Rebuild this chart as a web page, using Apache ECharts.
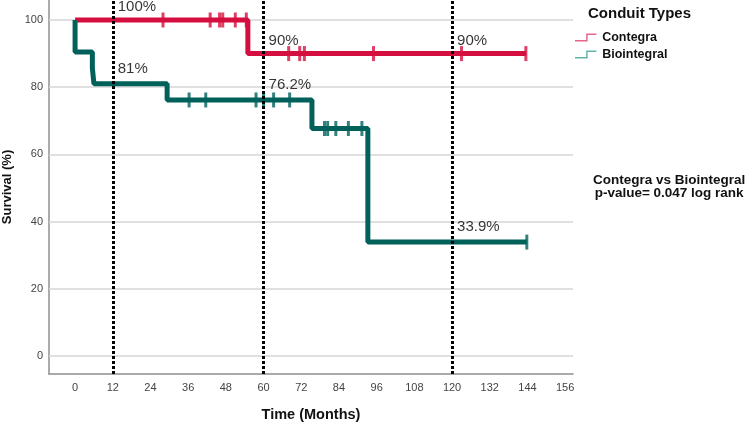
<!DOCTYPE html>
<html>
<head>
<meta charset="utf-8">
<script src="https://cdn.jsdelivr.net/npm/echarts@6/dist/echarts.min.js"></script>
<style>html,body{margin:0;padding:0;background:#fff}#chart{width:749px;height:422px}</style>
</head>
<body>
<div id="chart"></div>
<script>
// Kaplan-Meier steps: month of each drop and survival (%) after it
var contegraEventTimes = [0, 55];
var contegraSurvival = [100, 90];
var contegraCensored = [28, 43, 46, 47, 51, 54.5, 68, 71.5, 73, 95, 123, 143.5];

var biointegralEventTimes = [0, 0, 5.5, 6, 29.3, 75.4, 93.2];
var biointegralSurvival = [100, 90.5, 85.7, 81, 76.2, 67.7, 33.9];
var biointegralCensored = [36.3, 41.6, 57.6, 60, 63.2, 68.3, 79.4, 80.4, 83, 87, 91.3, 143.8];

var milestones = [12, 60, 120];
var contegraMilestoneLabels = ['100%', '90%', '90%'];
var biointegralMilestoneLabels = ['81%', '76.2%', '33.9%'];

var xTicks = [0, 12, 24, 36, 48, 60, 72, 84, 96, 108, 120, 132, 144, 156];
var yTicks = [0, 20, 40, 60, 80, 100];

var red = '#d40f3f';
var teal = '#00615b';
var font = 'Arial, "Liberation Sans", sans-serif';
var stepIcon = 'path://M0,7 L12,7 L12,0 L23,0 L23,1.6 L13.6,1.6 L13.6,8.6 L0,8.6 Z';

function survAt(times, surv, t) {
  var s = surv[0];
  for (var i = 0; i < times.length; i++) {
    if (times[i] <= t) s = surv[i];
  }
  return s;
}

function curve(times, surv, censored) {
  var pts = times.map(function (t, i) { return [t, surv[i]]; });
  var last = Math.max.apply(null, censored);
  pts.push([last, survAt(times, surv, last)]);
  return pts;
}

function censorPts(times, surv, censored) {
  return censored.map(function (t) { return [t, survAt(times, surv, t)]; });
}

function labelPts(times, surv) {
  return milestones.map(function (m) { return [m, survAt(times, surv, m)]; });
}

function kmLine(name, color, times, surv, censored) {
  return {
    name: name, type: 'line', step: 'end', symbol: 'none', z: 3,
    lineStyle: { color: color, width: 5 }, itemStyle: { color: color },
    data: curve(times, surv, censored)
  };
}

function censorSeries(name, color, times, surv, censored) {
  return {
    name: name + ' censored', type: 'scatter', symbol: 'rect', symbolSize: [3, 15], z: 4,
    itemStyle: { color: color }, silent: true,
    data: censorPts(times, surv, censored)
  };
}

function labelSeries(name, times, surv, texts, dy) {
  return {
    name: name + ' labels', type: 'scatter', symbolSize: 0, z: 6, silent: true,
    label: {
      show: true, position: 'right', distance: 5, offset: [0, dy],
      fontSize: 15, color: '#000', fontFamily: font,
      formatter: function (p) { return texts[p.dataIndex]; }
    },
    data: labelPts(times, surv)
  };
}

var chart = echarts.init(document.getElementById('chart'));

var option = {
  animation: false,
  textStyle: { fontFamily: font },
  grid: { left: 49, right: 176, top: 0, bottom: 48, containLabel: false, outerBoundsMode: 'none' },
  xAxis: {
    type: 'value', min: -8.3, max: 158.5,
    splitLine: { show: false }, axisTick: { show: false },
    axisLine: { onZero: false, lineStyle: { color: '#8f8f8f', width: 1.5 } },
    axisLabel: { customValues: xTicks, color: '#444', fontSize: 11, margin: 8 },
    name: 'Time (Months)', nameLocation: 'middle', nameGap: 33,
    nameTextStyle: { fontWeight: 'bold', fontSize: 14.5, color: '#111' }
  },
  yAxis: {
    type: 'value', min: -5.36, max: 105.95,
    splitLine: { show: false }, axisTick: { show: false },
    axisLine: { show: true, onZero: false, lineStyle: { color: '#8f8f8f', width: 1.5 } },
    axisLabel: { customValues: yTicks, color: '#444', fontSize: 11, margin: 6 },
    name: 'Survival (%)', nameLocation: 'middle', nameGap: 30,
    nameTextStyle: { fontWeight: 'bold', fontSize: 13, color: '#111' }
  },
  legend: {
    orient: 'vertical', left: 575, top: 31, padding: 0, itemGap: 4,
    itemWidth: 23, itemHeight: 8, selectedMode: false,
    textStyle: { fontWeight: 'bold', fontSize: 12.5, color: '#111', fontFamily: font },
    data: [
      { name: 'Contegra', icon: stepIcon, itemStyle: { color: '#e8648a', borderWidth: 0 } },
      { name: 'Biointegral', icon: stepIcon, itemStyle: { color: '#62b2ab', borderWidth: 0 } }
    ]
  },
  graphic: [
    {
      type: 'text', left: 588, top: 6,
      style: { text: 'Conduit Types', font: 'bold 15px ' + font, fill: '#111' }
    },
    {
      type: 'text', left: 593, top: 173,
      style: {
        text: 'Contegra vs Biointegral\np-value= 0.047 log rank',
        font: 'bold 13.5px ' + font, fill: '#111', textAlign: 'center', lineHeight: 13.5
      }
    }
  ],
  series: [
    {
      name: 'grid', type: 'line', data: [], silent: true,
      markLine: {
        silent: true, z: 1, symbol: ['none', 'none'], label: { show: false },
        lineStyle: { type: 'solid', color: '#d6d6d6', width: 1.5 },
        data: yTicks.map(function (v) { return { yAxis: v }; })
      }
    },
    kmLine('Contegra', red, contegraEventTimes, contegraSurvival, contegraCensored),
    kmLine('Biointegral', teal, biointegralEventTimes, biointegralSurvival, biointegralCensored),
    censorSeries('Contegra', red, contegraEventTimes, contegraSurvival, contegraCensored),
    censorSeries('Biointegral', teal, biointegralEventTimes, biointegralSurvival, biointegralCensored),
    labelSeries('Contegra', contegraEventTimes, contegraSurvival, contegraMilestoneLabels, -13),
    labelSeries('Biointegral', biointegralEventTimes, biointegralSurvival, biointegralMilestoneLabels, -15),
    {
      name: 'milestones', type: 'line', data: [], silent: true,
      markLine: {
        silent: true, z: 10, symbol: ['none', 'none'], label: { show: false },
        lineStyle: { type: [3, 2], color: '#000', width: 3 },
        data: milestones.map(function (v) { return { xAxis: v }; })
      }
    }
  ]
};

option && chart.setOption(option);
</script>
</body>
</html>
